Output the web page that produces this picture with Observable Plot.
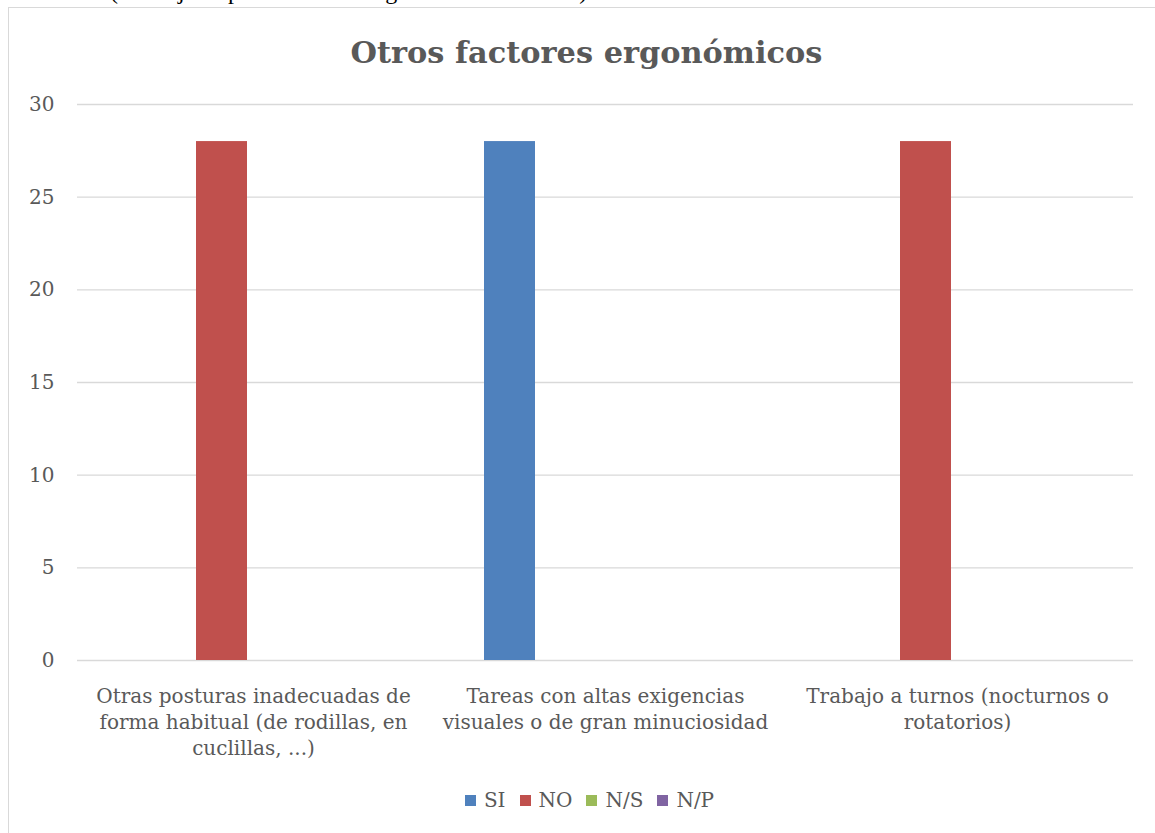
<!DOCTYPE html>
<html>
<head>
<meta charset="utf-8">
<script src="https://cdn.jsdelivr.net/npm/d3@7"></script>
<script src="https://cdn.jsdelivr.net/npm/@observablehq/plot@0.6"></script>
<style>
  html, body { margin: 0; padding: 0; background: #fff; overflow: hidden; }
  body { width: 1155px; height: 833px; position: relative; font-family: "DejaVu Serif", serif; }
  #toptext { position: absolute; left: -30px; top: -22px; font-family: "Liberation Serif", serif; font-size: 24px; color: #000; white-space: nowrap; }
  #frame { position: absolute; left: 8px; top: 7px; width: 1200px; height: 900px; border: 1px solid #d9d9d9; background: #fff; }
  #title { position: absolute; left: 9px; width: 1155px; top: 34px; text-align: center; font-weight: bold; font-size: 30.4px; color: #595959; }
  #chart { position: absolute; left: 0; top: 80px; }
  #legend { position: absolute; left: 12px; width: 1155px; top: 788px; display: flex; justify-content: center; align-items: center; font-size: 20px; color: #595959; }
  .item { display: flex; align-items: center; margin: 0 7px; }
  .sw { width: 11px; height: 11px; margin-right: 8px; }
</style>
</head>
<body>
<div id="toptext">Escuela CSIC (Consejo Superior de Investigaciones Científicas)</div>
<div id="frame"></div>
<div id="title">Otros factores ergonómicos</div>
<div id="chart"></div>
<div id="legend"></div>
<script>
const categories = [
  "Otras posturas inadecuadas de forma habitual (de rodillas, en cuclillas, ...)",
  "Tareas con altas exigencias visuales o de gran minuciosidad",
  "Trabajo a turnos (nocturnos o rotatorios)"
];
const categoryLines = [
  "Otras posturas inadecuadas de\nforma habitual (de rodillas, en\ncuclillas, ...)",
  "Tareas con altas exigencias\nvisuales o de gran minuciosidad",
  "Trabajo a turnos (nocturnos o\nrotatorios)"
];
const seriesNames = ["SI", "NO", "N/S", "N/P"];
const seriesColors = ["#4f81bd", "#c0504d", "#9bbb59", "#8064a2"];
const valuesSI  = [0, 28, 0];
const valuesNO  = [28, 0, 28];
const valuesNS  = [0, 0, 0];
const valuesNP  = [0, 0, 0];
const yTicks = [0, 5, 10, 15, 20, 25, 30];

const seriesValues = [valuesSI, valuesNO, valuesNS, valuesNP];
const data = [];
categories.forEach((c, i) => {
  seriesNames.forEach((s, j) => data.push({cat: c, series: s, value: seriesValues[j][i]}));
});
const labelOf = new Map(categories.map((c, i) => [c, categoryLines[i]]));

const chart = Plot.plot({
  width: 1155,
  height: 680,
  marginLeft: 76,
  marginRight: 22,
  marginTop: 24,
  marginBottom: 100,
  style: {fontFamily: "DejaVu Serif, serif", fontSize: "20px", color: "#595959", background: "transparent"},
  fx: {domain: categories, padding: 0, label: null},
  x: {domain: seriesNames, paddingInner: 0.21, paddingOuter: 0.836, axis: null},
  y: {domain: [0, 30], label: null},
  color: {domain: seriesNames, range: seriesColors},
  marks: [
    Plot.ruleY(yTicks, {stroke: "#d9d9d9", strokeWidth: 1.3}),
    Plot.barY(data, {fx: "cat", x: "series", y: "value", fill: "series"}),
    Plot.axisY({ticks: yTicks, tickSize: 0, tickPadding: 23, fontSize: 20, label: null}),
    Plot.axisFx({anchor: "bottom", tickSize: 0, tickPadding: 24, fontSize: 20, lineHeight: 1.3, tickFormat: d => labelOf.get(d), label: null})
  ]
});
document.getElementById("chart").appendChild(chart);

const legend = document.getElementById("legend");
seriesNames.forEach((s, i) => {
  const item = document.createElement("div");
  item.className = "item";
  const sw = document.createElement("div");
  sw.className = "sw";
  sw.style.background = seriesColors[i];
  const t = document.createElement("span");
  t.textContent = s;
  item.appendChild(sw);
  item.appendChild(t);
  legend.appendChild(item);
});
</script>
</body>
</html>
